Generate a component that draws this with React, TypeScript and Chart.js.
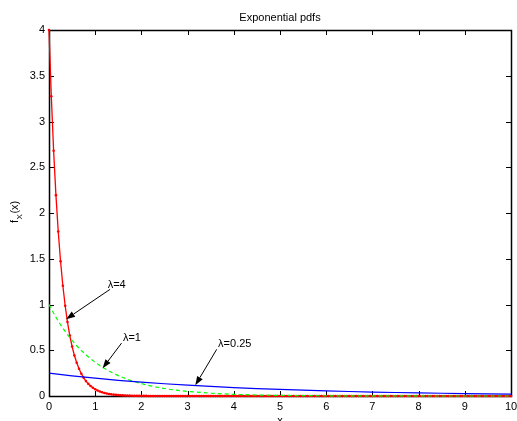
import React, { useEffect, useRef } from "react";
import { Chart, registerables } from "chart.js";

Chart.register(...registerables);

const TITLE = "Exponential pdfs";
const X_LABEL = "x";
const X_TICKS = [0, 1, 2, 3, 4, 5, 6, 7, 8, 9, 10];
const X_TICK_LABELS = ["0", "1", "2", "3", "4", "5", "6", "7", "8", "9", "10"];
const Y_TICKS = [0, 0.5, 1, 1.5, 2, 2.5, 3, 3.5, 4];
const Y_TICK_LABELS = ["0", "0.5", "1", "1.5", "2", "2.5", "3", "3.5", "4"];

// lambda = 4 (red, dotted markers), sampled every 0.05 from 0 to 10
const RED_STEP = 0.05;
const redValues = [
  4.0, 3.275, 2.681, 2.195, 1.797, 1.472, 1.205, 0.986, 0.808, 0.661,
  0.541, 0.443, 0.363, 0.297, 0.243, 0.199, 0.163, 0.133, 0.109, 0.0895,
  0.0733, 0.06, 0.0491, 0.0402, 0.0329, 0.027, 0.0221, 0.0181, 0.0148, 0.0121,
  0.0099, 0.0081, 0.0066, 0.0054, 0.0045, 0.0036, 0.003, 0.0024, 0.002, 0.0016,
  0.0013, 0.0011, 0.0009, 0.0007, 0.0006, 0.0005, 0.0004, 0.0003, 0.0003, 0.0002,
  0.0002, 0, 0, 0, 0, 0, 0, 0, 0, 0,
  0, 0, 0, 0, 0, 0, 0, 0, 0, 0,
  0, 0, 0, 0, 0, 0, 0, 0, 0, 0,
  0, 0, 0, 0, 0, 0, 0, 0, 0, 0,
  0, 0, 0, 0, 0, 0, 0, 0, 0, 0,
  0, 0, 0, 0, 0, 0, 0, 0, 0, 0,
  0, 0, 0, 0, 0, 0, 0, 0, 0, 0,
  0, 0, 0, 0, 0, 0, 0, 0, 0, 0,
  0, 0, 0, 0, 0, 0, 0, 0, 0, 0,
  0, 0, 0, 0, 0, 0, 0, 0, 0, 0,
  0, 0, 0, 0, 0, 0, 0, 0, 0, 0,
  0, 0, 0, 0, 0, 0, 0, 0, 0, 0,
  0, 0, 0, 0, 0, 0, 0, 0, 0, 0,
  0, 0, 0, 0, 0, 0, 0, 0, 0, 0,
  0, 0, 0, 0, 0, 0, 0, 0, 0, 0,
  0,
];

// lambda = 1 (green dashed)
const greenX = [
  0, 0.1, 0.2, 0.3, 0.4, 0.5, 0.6, 0.7, 0.8, 0.9, 1, 1.1, 1.2, 1.3, 1.4, 1.5,
  1.6, 1.7, 1.8, 1.9, 2, 2.1, 2.2, 2.3, 2.4, 2.5, 2.6, 2.7, 2.8, 2.9, 3, 3.5,
  4, 4.5, 5, 5.5, 6, 7, 8, 9, 10,
];
const greenY = [
  1, 0.905, 0.819, 0.741, 0.67, 0.607, 0.549, 0.497, 0.449, 0.407, 0.368,
  0.333, 0.301, 0.273, 0.247, 0.223, 0.202, 0.183, 0.165, 0.15, 0.135, 0.122,
  0.111, 0.1, 0.091, 0.082, 0.074, 0.067, 0.061, 0.055, 0.05, 0.03, 0.018,
  0.011, 0.0067, 0.0041, 0.0025, 0.0009, 0.0003, 0.0001, 0.00005,
];

// lambda = 0.25 (blue solid)
const blueX = [0, 0.5, 1, 1.5, 2, 2.5, 3, 3.5, 4, 4.5, 5, 5.5, 6, 6.5, 7, 7.5, 8, 8.5, 9, 9.5, 10];
const blueY = [
  0.25, 0.2206, 0.1947, 0.1718, 0.1516, 0.1338, 0.1181, 0.1042, 0.092, 0.0812,
  0.0716, 0.0632, 0.0558, 0.0492, 0.0434, 0.0383, 0.0338, 0.0299, 0.0264,
  0.0233, 0.0205,
];

// annotations (data coordinates)
const ANNOTATIONS = [
  { text: "λ=4", tx: 1.27, ty: 1.21, fx: 1.32, fy: 1.165, ax: 0.37, ay: 0.84 },
  { text: "λ=1", tx: 1.6, ty: 0.635, fx: 1.57, fy: 0.578, ax: 1.16, ay: 0.302 },
  { text: "λ=0.25", tx: 3.66, ty: 0.565, fx: 3.63, fy: 0.51, ax: 3.167, ay: 0.117 },
];

const FONT_FAMILY = '"Liberation Sans", Arial, Helvetica, sans-serif';

export default function App() {
  const ref = useRef<HTMLCanvasElement>(null);

  useEffect(() => {
    const canvas = ref.current!;
    const font = (s: number) => `${s}px ${FONT_FAMILY}`;

    const frame = {
      id: "frame",
      beforeDatasetsDraw(chart: any) {
        const { ctx, chartArea: a, scales } = chart;
        const xs = scales.x;
        const ys = scales.y;
        ctx.save();
        ctx.strokeStyle = "#000";
        ctx.lineWidth = 1.5;
        ctx.strokeRect(a.left + 0.5, a.top + 0.5, a.right - a.left, a.bottom - a.top);
        ctx.lineWidth = 1;
        ctx.beginPath();
        X_TICKS.forEach((v) => {
          const px = Math.round(xs.getPixelForValue(v)) + 0.5;
          ctx.moveTo(px, a.bottom);
          ctx.lineTo(px, a.bottom - 5);
          ctx.moveTo(px, a.top);
          ctx.lineTo(px, a.top + 5);
        });
        Y_TICKS.forEach((v) => {
          const py = Math.round(ys.getPixelForValue(v)) + 0.5;
          ctx.moveTo(a.left, py);
          ctx.lineTo(a.left + 5, py);
          ctx.moveTo(a.right, py);
          ctx.lineTo(a.right - 5, py);
        });
        ctx.stroke();

        ctx.fillStyle = "#000";
        ctx.font = font(11);
        ctx.textAlign = "center";
        ctx.textBaseline = "top";
        X_TICKS.forEach((v, i) => {
          ctx.fillText(X_TICK_LABELS[i], xs.getPixelForValue(v), a.bottom + 5);
        });
        ctx.textAlign = "right";
        ctx.textBaseline = "middle";
        Y_TICKS.forEach((v, i) => {
          ctx.fillText(Y_TICK_LABELS[i], a.left - 4, ys.getPixelForValue(v));
        });

        // title
        ctx.textAlign = "center";
        ctx.textBaseline = "middle";
        ctx.fillText(TITLE, (a.left + a.right) / 2, 18);

        // x label
        ctx.textBaseline = "top";
        ctx.fillText(X_LABEL, (a.left + a.right) / 2, a.bottom + 19);

        // y label f_X(x)
        ctx.save();
        ctx.translate(18, (a.top + a.bottom) / 2 + 10);
        ctx.rotate(-Math.PI / 2);
        ctx.textAlign = "left";
        ctx.textBaseline = "alphabetic";
        ctx.font = font(11);
        const w1 = ctx.measureText("f").width;
        ctx.fillText("f", 0, 0);
        ctx.font = font(8);
        const w2 = ctx.measureText("X").width;
        ctx.fillText("X", w1 + 0.5, 4);
        ctx.font = font(11);
        ctx.fillText("(x)", w1 + w2 + 1, 0);
        ctx.restore();
        ctx.restore();
      },
      afterDatasetsDraw(chart: any) {
        const { ctx, scales } = chart;
        const xs = scales.x;
        const ys = scales.y;
        ctx.save();
        ctx.strokeStyle = "#000";
        ctx.fillStyle = "#000";
        ctx.lineWidth = 1;
        ctx.font = font(11);
        ctx.textAlign = "left";
        ctx.textBaseline = "middle";
        ANNOTATIONS.forEach((an) => {
          const x1 = xs.getPixelForValue(an.fx);
          const y1 = ys.getPixelForValue(an.fy);
          const x2 = xs.getPixelForValue(an.ax);
          const y2 = ys.getPixelForValue(an.ay);
          const ang = Math.atan2(y2 - y1, x2 - x1);
          const L = 9;
          const W = 3.2;
          const bx = x2 - L * Math.cos(ang);
          const by = y2 - L * Math.sin(ang);
          ctx.beginPath();
          ctx.moveTo(x1, y1);
          ctx.lineTo(bx, by);
          ctx.stroke();
          ctx.beginPath();
          ctx.moveTo(x2, y2);
          ctx.lineTo(bx + W * Math.sin(ang), by - W * Math.cos(ang));
          ctx.lineTo(bx - W * Math.sin(ang), by + W * Math.cos(ang));
          ctx.closePath();
          ctx.fill();
          ctx.fillText(an.text, xs.getPixelForValue(an.tx), ys.getPixelForValue(an.ty));
        });
        ctx.restore();
      },
    };

    const chart = new Chart(canvas, {
      type: "line",
      data: {
        datasets: [
          {
            label: "λ=0.25",
            data: blueX.map((x, i) => ({ x, y: blueY[i] })),
            borderColor: "#0000ff",
            borderWidth: 1.2,
            pointRadius: 0,
            tension: 0,
            clip: false as any,
          },
          {
            label: "λ=1",
            data: greenX.map((x, i) => ({ x, y: greenY[i] })),
            borderColor: "#00ff00",
            borderWidth: 1.2,
            borderDash: [4, 3],
            pointRadius: 0,
            tension: 0,
            clip: false as any,
          },
          {
            label: "λ=4",
            data: redValues.map((y, i) => ({ x: i * RED_STEP, y })),
            borderColor: "#ff0000",
            backgroundColor: "#ff0000",
            borderWidth: 1.3,
            pointRadius: 1.3,
            pointBorderWidth: 0,
            pointStyle: "circle",
            tension: 0,
            clip: false as any,
          },
        ],
      },
      options: {
        responsive: false,
        animation: false,
        layout: { padding: { left: 49, top: 30, right: 6, bottom: 25 } },
        plugins: {
          legend: { display: false },
          title: { display: false },
          tooltip: { enabled: false },
        },
        scales: {
          x: { type: "linear", min: 0, max: 10, display: false },
          y: { type: "linear", min: 0, max: 4, display: false },
        },
      },
      plugins: [frame],
    });
    return () => chart.destroy();
  }, []);

  return (
    <canvas
      ref={ref}
      width={517}
      height={421}
      style={{ position: "fixed", left: 0, top: 0, width: 517, height: 421, background: "#fff" }}
    />
  );
}
